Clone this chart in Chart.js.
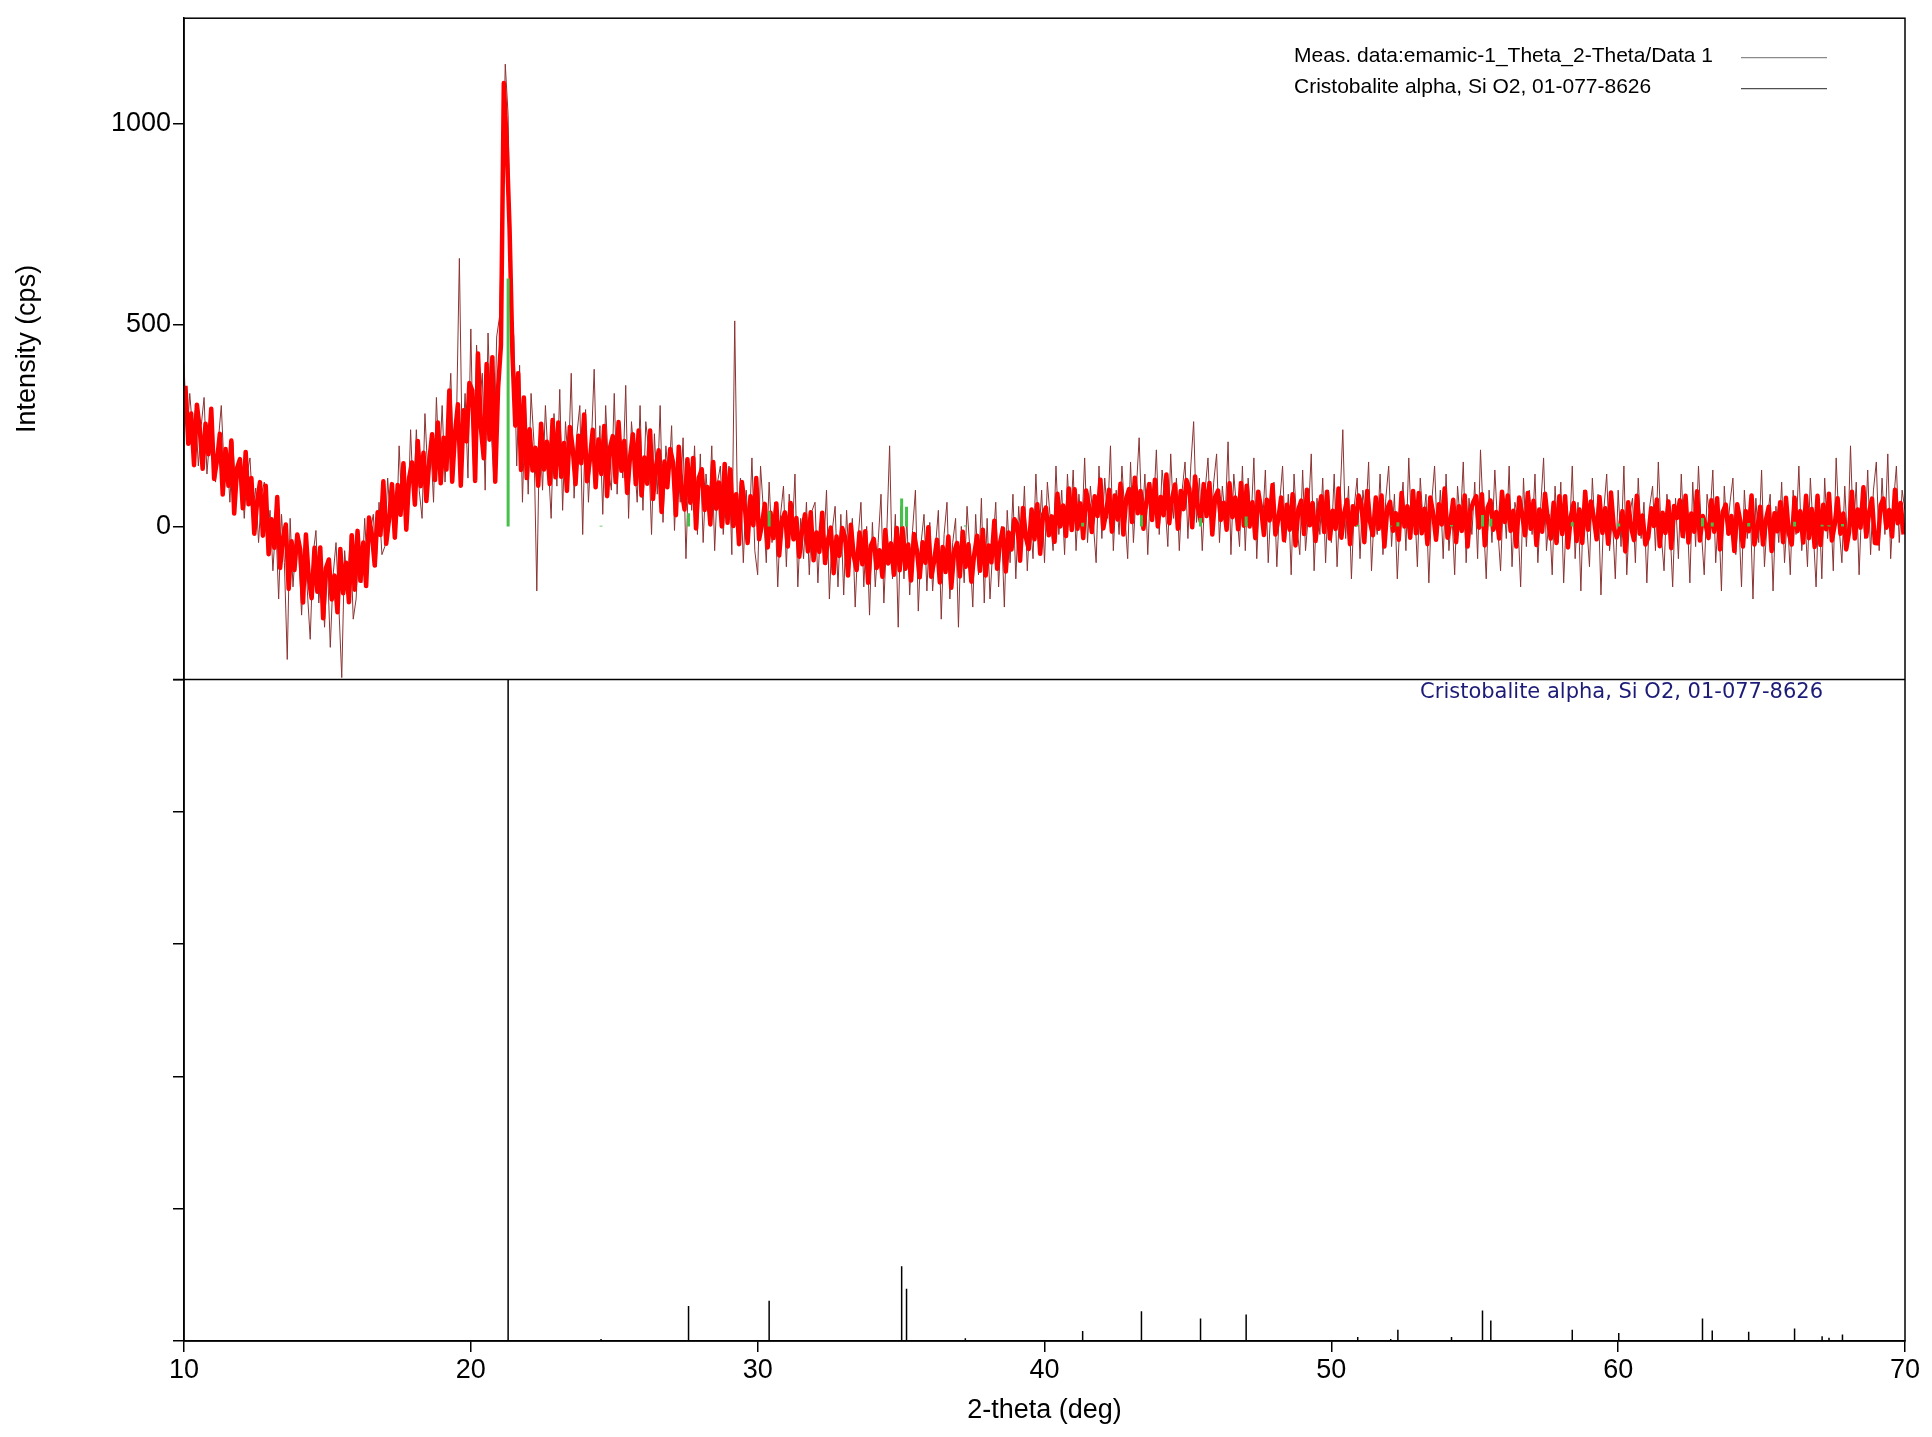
<!DOCTYPE html>
<html>
<head>
<meta charset="utf-8">
<script src="https://cdn.jsdelivr.net/npm/chart.js@4.4.1/dist/chart.umd.min.js"></script>
<style>
  html, body { margin: 0; padding: 0; background: #fff; }
  #wrap { width: 1932px; height: 1437px; position: relative; }
</style>
</head>
<body>
<div id="wrap"><canvas id="xrd" width="1932" height="1437"></canvas></div>
<script>
// scan grid (deg 2-theta)
const scanStart = 10;
const scanStep = 0.1;

// measured intensity (cps), 10.0 .. 70.0 deg, one row per degree
const measCounts = [
  405, 215, 330, 240, 290, 150, 250, 320, 130, 225,
  230, 110, 215, 300, 140, 180, 60, 210, 90, 165,
  150, 20, 130, 170, 40, 95, -40, 80, 110, -30,
  40, -110, 10, -180, 30, -90, -330, 20, -150, -40,
  -60, -220, -40, -160, -280, -70, -10, -190, -90, -250,
  -90, -300, -120, -40, -200, -375, -60, -150, -20, -230,
  -180, -30, -140, 20, -120, -10, 30, -100, 60, -70,
  -50, 120, 10, 100, -30, 200, 40, 150, 10, 240,
  60, 240, 90, 20, 280, 130, 210, 60, 320, 140,
  300, 110, 240, 380, 150, 260, 665, 180, 330, 120,
  490, 120, 450, 300, 380, 90, 480, 250, 120, 470,
  520, 800, 1147, 1020, 560, 470, 150, 400, 60, 310,
  80, 330, 210, -160, 250, 90, 300, 160, 20, 280,
  100, 340, 40, 260, 150, 380, 70, 230, 300, -20,
  290, 60, 200, 390, 110, 250, 30, 300, 140, 90,
  330, 80, 240, 120, 350, 20, 260, 170, 60, 300,
  40, 260, 190, -20, 230, 80, 300, 10, 200, 110,
  250, -10, 170, 60, 220, -80, 150, 40, 200, -20,
  180, -40, 130, 30, 200, -60, 110, 150, -20, 90,
  150, -70, 510, 20, 120, -90, 90, -30, 170, -60,
  -120, 150, 40, -90, 110, -40, 60, -150, 30, 100,
  -100, 80, -30, 130, -150, 20, -80, 60, -120, 40,
  60, -140, 20, -60, 90, -180, -10, 50, -150, 30,
  -170, 40, -110, 20, -200, -30, 60, -150, 0, -220,
  10, -150, -40, 80, -190, -20, 200, -130, 30, -250,
  50, -130, 20, -170, -10, 90, -210, -40, 30, -160,
  10, -160, -50, 40, -230, -20, 60, -180, -40, 20,
  -250, 0, -140, 50, -60, -200, 30, -120, 70, -190,
  20, -180, -50, 60, -150, 0, -200, 40, -90, 80,
  -130, 50, -60, 100, -110, 30, -80, 130, -40, 90,
  -90, 110, 20, -60, 150, -20, 90, -70, 130, 0,
  140, -60, 80, -10, 170, -40, 100, 10, -90, 150,
  -30, 120, 20, 200, -60, 90, -20, 150, 30, -80,
  160, -40, 90, 220, 0, 130, -70, 110, 40, 190,
  -20, 140, 60, -50, 180, 20, 120, -60, 90, 160,
  -30, 150, 260, 10, 120, -60, 90, 170, -10, 110,
  180, -40, 100, 20, 210, -70, 130, 40, -50, 150,
  -60, 120, 10, 170, -80, 90, 0, 140, -90, 60,
  110, -100, 60, 150, -40, 80, -120, 130, 0, -70,
  140, -60, 30, 180, -110, 70, -20, 120, -90, 90,
  -40, 130, -100, 60, 240, -30, 100, -130, 50, 120,
  -80, 90, 20, 160, -110, 40, -20, 130, -70, 70,
  150, -50, 80, -130, 30, 110, -60, 170, -20, 60,
  -100, 120, 10, 80, -140, 60, 150, -30, 90, -80,
  130, -60, 40, -120, 100, 10, 160, -90, 70, -20,
  110, -80, 190, 20, -130, 90, -40, 140, 0, -110,
  80, -30, 150, -100, 60, 20, -150, 120, -50, 90,
  -20, 130, -90, 50, 170, -60, 30, -120, 100, -40,
  110, -140, 40, -30, 150, -80, 60, -160, 90, 10,
  -100, 120, -20, 80, -170, 40, 130, -60, 20, -130,
  90, -50, 150, -120, 30, 70, -90, 120, -30, 60,
  -140, 50, 100, -60, 160, -20, -110, 80, 10, -150,
  70, -80, 130, -30, 40, -140, 110, -50, 150, -10,
  -120, 80, 20, 140, -90, 40, -160, 100, -20, 60,
  120, -70, 30, -150, 90, -30, 60, -180, 70, -40,
  140, -100, 20, 80, -160, 50, -40, 110, -90, 30,
  -120, 90, -20, 150, -60, 40, -100, 120, -10, -150,
  70, -130, 120, -30, 60, -110, 170, 0, -90, 100,
  -50, 200, -20, 110, -120, 70, -30, 140, -70, 90,
  160, -60, 120, -20, 180, -80, 60, 150, -40, 90,
  40
];

// solid red trace (cps), 10.05 .. 69.95 deg, one row per degree
const traceCounts = [
  349, 205, 280, 152, 302, 241, 143, 255, 179, 292,
  118, 163, 230, 79, 192, 101, 213, 32, 145, 167,
  45, 185, 55, 120, -18, 62, 110, -23, 101, -69,
  18, -53, 73, -103, -30, 5, -155, -37, -108, -20,
  -57, -189, -20, -129, -178, -53, -162, -52, -228, -103,
  -82, -181, -122, -213, -56, -166, -90, -188, -22, -157,
  -11, -135, -40, -148, 22, -19, -97, 35, -21, 112,
  -43, 20, 105, -28, 103, 29, 157, -8, 121, 159,
  54, 212, 100, 183, 63, 162, 229, 115, 258, 107,
  220, 141, 337, 111, 233, 303, 101, 288, 211, 356,
  338, 113, 429, 245, 169, 403, 215, 420, 111, 343,
  450, 1100, 950, 740, 430, 250, 380, 140, 320, 120,
  241, 139, 195, 101, 255, 141, 210, 105, 264, 122,
  258, 123, 207, 88, 247, 195, 105, 225, 157, 278,
  112, 165, 240, 97, 216, 130, 249, 75, 195, 224,
  110, 259, 138, 212, 83, 172, 229, 105, 238, 77,
  171, 106, 238, 68, 147, 189, 36, 161, 97, 192,
  159, 28, 198, 90, 42, 167, 59, 170, -5, 121,
  142, 41, 98, 5, 160, 44, 109, 0, 155, 9,
  141, 1, 80, -44, 110, 53, -41, 75, 3, 120,
  -32, 4, 56, -52, 34, -29, 57, -72, 15, 35,
  -50, 58, -32, 21, -75, -11, 30, -62, 35, -84,
  -15, -63, 34, -91, -33, -3, -116, -25, -73, -4,
  -27, -122, 4, -74, -108, -15, -94, -12, -140, -47,
  -31, -103, -59, -125, -9, -92, -42, -120, -4, -109,
  -4, -105, -45, -134, -19, -59, -126, -39, -90, -2,
  -125, -87, -33, -139, -51, -113, -25, -152, -63, -41,
  -124, -13, -100, -44, -137, -69, -23, -110, -8, -122,
  -47, -89, 14, -105, -41, -5, -112, -15, -57, 18,
  5, -85, 46, -27, -56, 42, -32, 55, -68, 30,
  47, -22, 25, -38, 81, 0, 52, -24, 94, -9,
  92, -6, 57, -29, 89, 51, -14, 75, 26, 116,
  -5, 35, 91, -13, 77, 17, 106, -20, 70, 93,
  11, 121, 33, 88, -6, 61, 105, 16, 116, 0,
  73, 28, 129, 8, 70, 104, -6, 88, 43, 115,
  93, -2, 124, 46, 12, 105, 26, 108, -20, 73,
  89, 16, 59, -8, 107, 23, 72, -7, 108, 2,
  101, 0, 60, -29, 86, 46, -21, 66, 15, 103,
  -20, 18, 72, -34, 54, -8, 80, -47, 42, 64,
  -19, 91, 3, 58, -36, 31, 75, -14, 86, -30,
  39, -6, 94, -28, 33, 66, -44, 50, 5, 77,
  55, -39, 88, 11, -22, 72, -6, 77, -50, 44,
  61, -11, 33, -33, 83, 0, 50, -28, 88, -17,
  83, -17, 44, -44, 72, 33, -33, 55, 5, 94,
  -28, 11, 66, -39, 50, -11, 77, -50, 39, 61,
  75, -3, 80, -47, 47, 64, -8, 36, -30, 86,
  11, 77, -11, 39, -50, 72, 33, -22, 83, -6,
  64, -46, 42, -13, 81, 14, -30, 59, -41, 75,
  -19, 75, -52, 25, 58, -36, 42, -41, 86, -8,
  62, 23, -32, 73, -16, 45, -43, 84, -5, -27,
  -7, 38, -62, 60, -1, -34, 76, -18, 27, -45,
  -27, 45, 1, 67, -49, 34, -16, 62, -54, 51,
  21, 65, -24, 76, -40, 32, -13, 87, -35, 26,
  4, -29, 65, -13, 70, -57, 37, 54, -18, 26,
  -61, 55, 16, -50, 38, -12, 77, -45, -6, 49,
  -45, 16, 49, -61, 33, -12, 60, -39, 71, -17,
  -45, 71, -12, 38, -40, 76, -29, 43, -51, 76,
  -46, 54, -7, 81, -35, 4, 70, -18, 32, -57,
  -14, 86, -30, 42, -3, 97, -25, 36, 69, -41,
  -42, 52, 69, -3, 41, -25, 91, 8, 58, -20
];

// Cristobalite alpha, Si O2, 01-077-8626 : line positions (deg) and relative intensity (%)
const refPos = [21.30, 24.54, 27.59, 30.40, 35.02, 35.19, 37.24, 41.33, 43.38, 45.44, 47.03,
  50.92, 52.07, 52.32, 54.19, 55.27, 55.56, 58.40, 60.02, 62.94, 63.28, 64.55, 66.15, 67.11, 67.35, 67.82];
const refInt = [100, 0.3, 5.3, 6.1, 11.3, 7.9, 0.4, 1.5, 4.5, 3.4, 4.0,
  0.6, 0.3, 1.7, 0.6, 4.6, 3.1, 1.7, 1.2, 3.4, 1.6, 1.4, 1.9, 0.7, 0.5, 1.0];
const refTopScale = 6.15; // cps per % for the green markers in the upper panel

const xTicks = [10, 20, 30, 40, 50, 60, 70];
const yTicks = [0, 500, 1000];
const refTicks = [0, 20, 40, 60, 80, 100];

const legendLabels = ['Meas. data:emamic-1_Theta_2-Theta/Data 1', 'Cristobalite alpha, Si O2, 01-077-8626'];
const legendColors = ['#8a8a8a', '#505050'];
const phaseLabel = 'Cristobalite alpha, Si O2, 01-077-8626';

const FONT = "'Liberation Sans', Arial, sans-serif";

// build point lists
const measPoints = measCounts.map((v, i) => ({ x: scanStart + i * scanStep, y: v }));
const tracePoints = traceCounts.map((v, i) => ({ x: scanStart + scanStep / 2 + i * scanStep, y: v }));

function sticks(scale) {
    const pts = [];
    refPos.forEach((p, i) => {
        pts.push({ x: p, y: 0 });
        pts.push({ x: p, y: refInt[i] * scale });
        pts.push({ x: p, y: null });
    });
    return pts;
}

const axisGrid = { drawOnChartArea: false, drawTicks: true, tickLength: 11, color: '#000', lineWidth: 1.5 };
const axisBorder = { display: true, color: '#000', width: 1.5 };
const tickFont = { family: FONT, size: 27 };

const frameAndLabels = {
    id: 'frameAndLabels',
    afterDraw(chart) {
        const { ctx, chartArea: a, scales } = chart;
        ctx.save();
        ctx.strokeStyle = '#000';
        ctx.lineWidth = 1.5;
        ctx.strokeRect(a.left, a.top, a.right - a.left, a.bottom - a.top);
        const yDiv = scales.y2.top;
        ctx.beginPath();
        ctx.moveTo(a.left - 11, yDiv);
        ctx.lineTo(a.right, yDiv);
        ctx.stroke();

        // legend, top right of upper panel
        ctx.font = '21px ' + FONT;
        ctx.textBaseline = 'middle';
        ctx.textAlign = 'left';
        legendLabels.forEach((t, i) => {
            const y = a.top + 38.5 + i * 31;
            ctx.fillStyle = '#000';
            ctx.fillText(t, a.right - 611, y);
            ctx.strokeStyle = legendColors[i];
            ctx.lineWidth = 1.2;
            ctx.beginPath();
            ctx.moveTo(a.right - 164, y + 1);
            ctx.lineTo(a.right - 78, y + 1);
            ctx.stroke();
        });

        // phase name, top right of lower panel
        ctx.font = "21px 'DejaVu Sans', sans-serif";
        ctx.textAlign = 'right';
        ctx.fillStyle = '#1c1c78';
        ctx.fillText(phaseLabel, a.right - 82, yDiv + 13);
        ctx.restore();
    }
};

Chart.defaults.font.family = FONT;

new Chart(document.getElementById('xrd'), {
    type: 'line',
    data: {
        datasets: [
            { label: 'meas', data: measPoints, yAxisID: 'y', borderColor: '#8b3434', borderWidth: 1,
              borderJoinStyle: 'bevel', pointRadius: 0, order: 3 },
            { label: 'trace', data: tracePoints, yAxisID: 'y', borderColor: '#ff0000', borderWidth: 4.5,
              borderJoinStyle: 'round', pointRadius: 0, order: 2 },
            { label: 'ref-top', data: sticks(refTopScale), yAxisID: 'y', borderColor: '#45c04a', borderWidth: 3,
              pointRadius: 0, spanGaps: false, order: 1 },
            { label: 'ref', data: sticks(1), yAxisID: 'y2', borderColor: '#000', borderWidth: 1.5,
              pointRadius: 0, spanGaps: false, order: 0 }
        ]
    },
    options: {
        responsive: false,
        animation: false,
        devicePixelRatio: 1,
        layout: { padding: { left: 0, right: 27, top: 14, bottom: 0 } },
        plugins: { legend: { display: false }, tooltip: { enabled: false } },
        elements: { line: { tension: 0 } },
        scales: {
            x: {
                type: 'linear', position: 'bottom', min: 10, max: 70,
                afterBuildTicks: s => { s.ticks = xTicks.map(v => ({ value: v })); },
                afterFit: s => { s.height = 96; },
                ticks: { font: tickFont, color: '#000', padding: 2, autoSkip: false, maxRotation: 0,
                         callback: v => String(v) },
                grid: axisGrid,
                border: axisBorder,
                title: { display: true, text: '2-theta (deg)', font: tickFont, color: '#000',
                         padding: { top: 0, bottom: 10 } }
            },
            // left stack is laid out bottom-up, so the lower panel comes first
            y2: {
                type: 'linear', position: 'left', stack: 'panels', stackWeight: 1, min: 0, max: 100,
                afterBuildTicks: s => { s.ticks = refTicks.map(v => ({ value: v })); },
                afterFit: s => { s.width = 184; },
                ticks: { font: tickFont, color: '#000', padding: 2, callback: () => '' },
                grid: axisGrid,
                border: axisBorder
            },
            y: {
                type: 'linear', position: 'left', stack: 'panels', stackWeight: 1, min: -380, max: 1261,
                afterBuildTicks: s => { s.ticks = yTicks.map(v => ({ value: v })); },
                afterFit: s => { s.width = 184; },
                ticks: { font: tickFont, color: '#000', padding: 2, callback: v => String(v) },
                grid: axisGrid,
                border: axisBorder,
                title: { display: true, text: 'Intensity (cps)', font: tickFont, color: '#000',
                         padding: { top: 11, bottom: 0 } }
            }
        }
    },
    plugins: [frameAndLabels]
});
</script>
</body>
</html>
